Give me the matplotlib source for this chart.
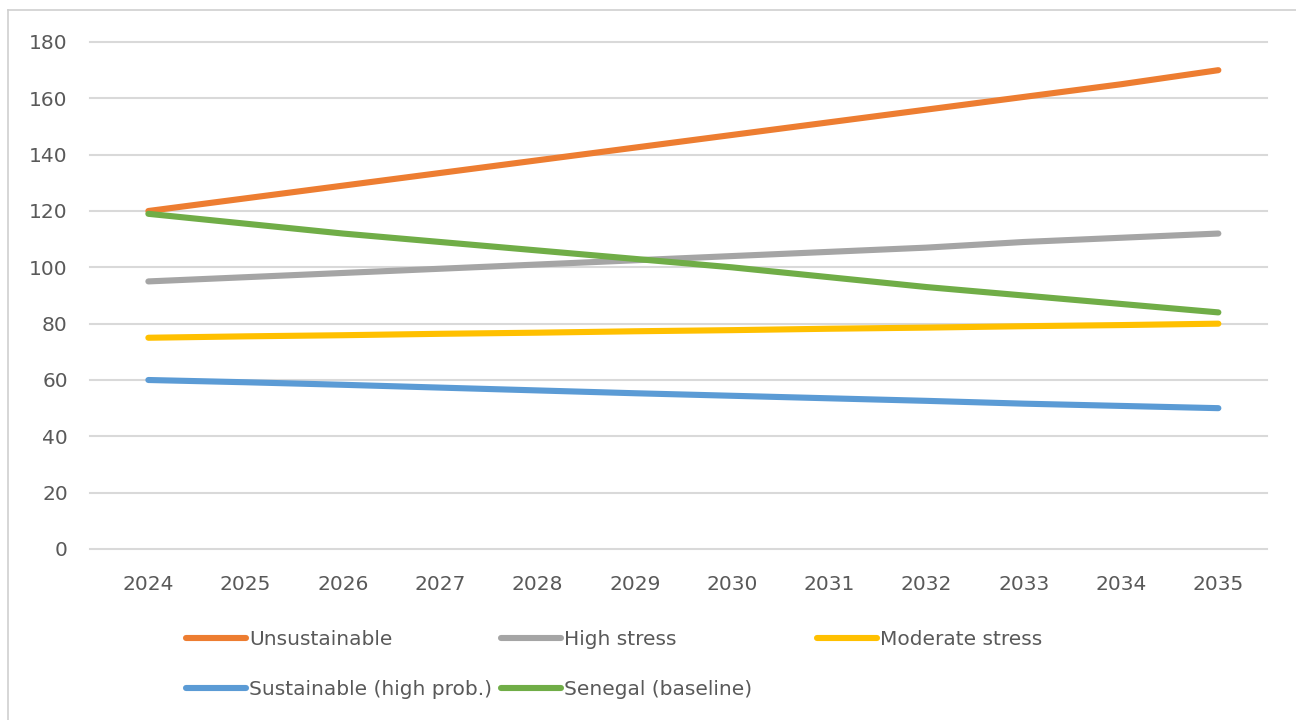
import matplotlib
matplotlib.use("Agg")
import matplotlib.pyplot as plt
from matplotlib.lines import Line2D

years = [str(y) for y in range(2024, 2036)]

unsustainable = [120, 124.5, 129, 133.5, 138, 142.5, 147, 151.5, 156, 160.5, 165, 170]
high_stress = [95, 96.5, 98, 99.5, 101, 102.5, 104, 105.5, 107, 109, 110.5, 112]
moderate_stress = [75, 75.5, 75.9, 76.4, 76.8, 77.3, 77.7, 78.2, 78.6, 79.1, 79.5, 80]
sustainable = [60, 59.2, 58.3, 57.3, 56.3, 55.3, 54.4, 53.5, 52.6, 51.6, 50.8, 50]
senegal = [119, 115.5, 112, 109, 106, 103, 100, 96.5, 93, 90, 87, 84]

series = [
    ("Unsustainable", unsustainable, "#ED7D31"),
    ("High stress", high_stress, "#A5A5A5"),
    ("Moderate stress", moderate_stress, "#FFC000"),
    ("Sustainable (high prob.)", sustainable, "#5B9BD5"),
    ("Senegal (baseline)", senegal, "#70AD47"),
]

text_color = "#595959"
plt.rcParams["font.family"] = ["DejaVu Sans"]

W, H = 1296, 720
fig = plt.figure(figsize=(W / 100, H / 100), dpi=100)

# chart frame (top and left edges)
fig.add_artist(Line2D([8 / W, 1], [1 - 10 / H, 1 - 10 / H], color="#CFCFCF", lw=1.2))
fig.add_artist(Line2D([8 / W, 8 / W], [0, 1 - 10 / H], color="#CFCFCF", lw=1.2))

ax = fig.add_axes([90 / W, 1 - 549 / H, (1267 - 90) / W, (549 - 42) / H])

x = list(range(len(years)))
handles = {}
for name, vals, col in series:
    (ln,) = ax.plot(x, vals, color=col, lw=4.4, solid_capstyle="round", label=name)
    handles[name] = ln

ax.set_xlim(-0.6, len(years) - 0.5)
ax.set_ylim(0, 180)
ax.set_yticks(range(0, 181, 20))
ax.set_xticks(x)
ax.set_xticklabels(years)
ax.grid(axis="y", color="#D9D9D9", lw=1.5)
for gl in ax.get_ygridlines():
    gl.set_clip_on(False)
ax.set_axisbelow(True)
for s in ax.spines.values():
    s.set_visible(False)
ax.tick_params(length=0, labelsize=14.5, labelcolor=text_color)
ax.tick_params(axis="y", pad=16)
ax.tick_params(axis="x", pad=19)

# legend laid out row by row, one legend per column
columns = [
    (186, ["Unsustainable", "Sustainable (high prob.)"]),
    (501, ["High stress", "Senegal (baseline)"]),
    (817, ["Moderate stress"]),
]
for xpix, names in columns:
    leg = fig.legend(
        [handles[n] for n in names], names,
        loc="upper left", bbox_to_anchor=(xpix / W, 1 - 630 / H),
        frameon=False, fontsize=14.5, handlelength=3.0, handletextpad=0.15,
        borderaxespad=0, borderpad=0, labelspacing=1.55,
        labelcolor=text_color,
    )
    for l in leg.get_lines():
        l.set_linewidth(4.4)

fig.savefig("out.png", dpi=100)
